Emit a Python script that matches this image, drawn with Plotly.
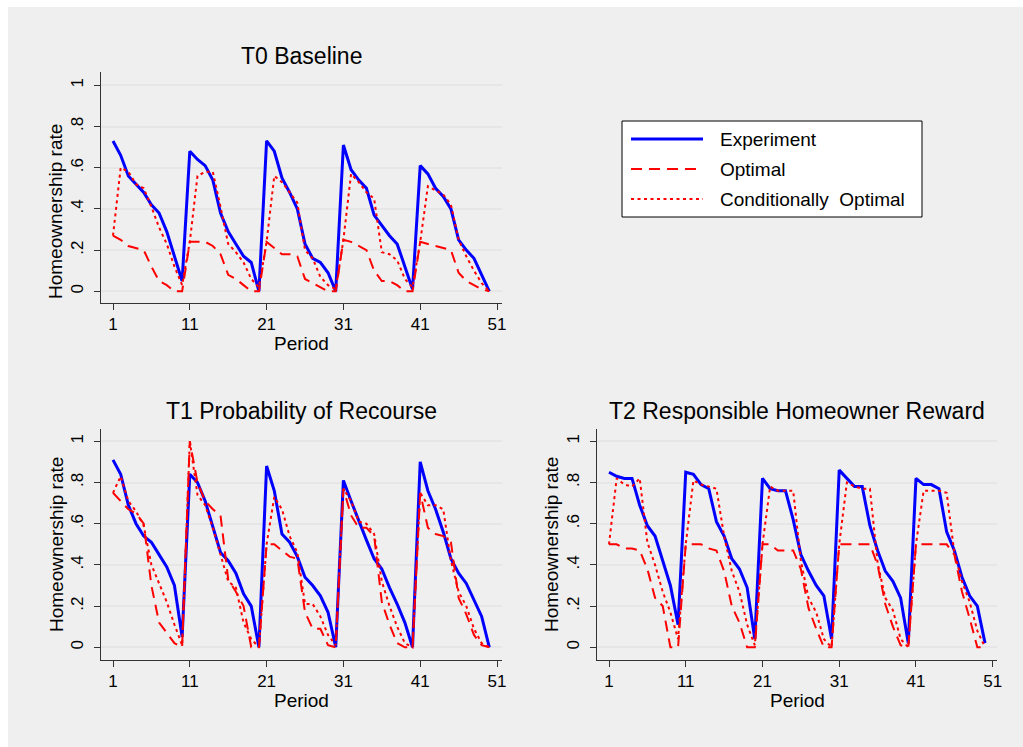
import plotly.graph_objects as go

W, H = 1023, 747

# ---- data -------------------------------------------------------------
periods = list(range(1, 51))
x_ticks = [1, 11, 21, 31, 41, 51]
x_tick_labels = ["1", "11", "21", "31", "41", "51"]
y_ticks = [0, 0.2, 0.4, 0.6, 0.8, 1.0]
y_tick_labels = ["0", ".2", ".4", ".6", ".8", "1"]

series_names = ["Experiment", "Optimal", "Conditionally  Optimal"]
panel_titles = ["T0 Baseline", "T1 Probability of Recourse",
                "T2 Responsible Homeowner Reward"]

t0_experiment = [0.73, 0.66, 0.56, 0.52, 0.48, 0.42, 0.38, 0.29, 0.17, 0.05,
                 0.68, 0.64, 0.61, 0.54, 0.38, 0.29, 0.23, 0.17, 0.14, 0.00,
                 0.73, 0.68, 0.55, 0.48, 0.40, 0.23, 0.16, 0.14, 0.09, 0.00,
                 0.71, 0.59, 0.54, 0.50, 0.37, 0.32, 0.27, 0.23, 0.12, 0.01,
                 0.61, 0.57, 0.50, 0.46, 0.40, 0.25, 0.20, 0.16, 0.08, 0.00]
t0_optimal = [0.27, 0.25, 0.22, 0.21, 0.20, 0.12, 0.05, 0.03, 0.00, 0.00,
              0.24, 0.24, 0.24, 0.22, 0.18, 0.08, 0.06, 0.03, 0.00, 0.00,
              0.24, 0.21, 0.18, 0.18, 0.17, 0.06, 0.04, 0.02, 0.00, 0.00,
              0.25, 0.24, 0.22, 0.20, 0.10, 0.05, 0.05, 0.03, 0.00, 0.00,
              0.24, 0.23, 0.22, 0.21, 0.20, 0.09, 0.05, 0.03, 0.01, 0.00]
t0_cond_optimal = [0.27, 0.60, 0.58, 0.52, 0.50, 0.41, 0.31, 0.23, 0.12, 0.03,
                   0.24, 0.56, 0.58, 0.58, 0.41, 0.23, 0.19, 0.14, 0.06, 0.02,
                   0.24, 0.56, 0.53, 0.48, 0.43, 0.20, 0.16, 0.07, 0.03, 0.01,
                   0.25, 0.57, 0.53, 0.48, 0.45, 0.19, 0.18, 0.15, 0.06, 0.02,
                   0.24, 0.51, 0.49, 0.47, 0.42, 0.25, 0.17, 0.10, 0.04, 0.00]

t1_experiment = [0.91, 0.84, 0.69, 0.60, 0.54, 0.51, 0.45, 0.39, 0.30, 0.05,
                 0.84, 0.80, 0.71, 0.59, 0.46, 0.42, 0.36, 0.26, 0.20, 0.00,
                 0.88, 0.76, 0.55, 0.51, 0.44, 0.34, 0.30, 0.25, 0.17, 0.00,
                 0.81, 0.71, 0.61, 0.52, 0.43, 0.38, 0.29, 0.21, 0.12, 0.00,
                 0.90, 0.76, 0.67, 0.56, 0.43, 0.36, 0.31, 0.23, 0.15, 0.00]
t1_optimal = [0.75, 0.71, 0.67, 0.65, 0.60, 0.30, 0.12, 0.07, 0.02, 0.00,
              1.00, 0.80, 0.71, 0.67, 0.64, 0.33, 0.27, 0.20, 0.00, 0.00,
              0.50, 0.50, 0.47, 0.44, 0.43, 0.17, 0.09, 0.09, 0.01, 0.00,
              0.77, 0.64, 0.58, 0.58, 0.54, 0.22, 0.11, 0.02, 0.00, 0.00,
              0.75, 0.58, 0.55, 0.54, 0.51, 0.24, 0.16, 0.06, 0.01, 0.00]
t1_cond_optimal = [0.75, 0.83, 0.71, 0.66, 0.59, 0.40, 0.31, 0.22, 0.11, 0.01,
                   1.00, 0.74, 0.69, 0.58, 0.45, 0.32, 0.29, 0.12, 0.04, 0.00,
                   0.50, 0.73, 0.67, 0.54, 0.46, 0.21, 0.21, 0.15, 0.06, 0.01,
                   0.77, 0.71, 0.61, 0.60, 0.55, 0.32, 0.20, 0.10, 0.02, 0.00,
                   0.75, 0.69, 0.69, 0.67, 0.42, 0.27, 0.20, 0.09, 0.02, 0.00]

t2_experiment = [0.85, 0.83, 0.82, 0.82, 0.69, 0.59, 0.54, 0.42, 0.30, 0.11,
                 0.85, 0.84, 0.79, 0.77, 0.61, 0.54, 0.43, 0.38, 0.29, 0.04,
                 0.82, 0.77, 0.76, 0.76, 0.62, 0.45, 0.37, 0.30, 0.25, 0.04,
                 0.86, 0.82, 0.78, 0.78, 0.59, 0.47, 0.37, 0.32, 0.24, 0.02,
                 0.82, 0.79, 0.79, 0.77, 0.56, 0.47, 0.34, 0.25, 0.20, 0.02]
t2_optimal = [0.50, 0.50, 0.48, 0.48, 0.47, 0.38, 0.24, 0.20, 0.00, 0.00,
              0.50, 0.50, 0.50, 0.48, 0.47, 0.37, 0.20, 0.12, 0.00, 0.00,
              0.50, 0.50, 0.47, 0.47, 0.47, 0.38, 0.19, 0.09, 0.00, 0.00,
              0.50, 0.50, 0.50, 0.50, 0.50, 0.40, 0.21, 0.10, 0.01, 0.00,
              0.50, 0.50, 0.50, 0.50, 0.50, 0.45, 0.27, 0.14, 0.00, 0.00]
t2_cond_optimal = [0.50, 0.82, 0.79, 0.78, 0.82, 0.51, 0.40, 0.27, 0.17, 0.04,
                   0.50, 0.81, 0.79, 0.78, 0.77, 0.54, 0.37, 0.27, 0.11, 0.01,
                   0.50, 0.78, 0.76, 0.76, 0.76, 0.42, 0.24, 0.17, 0.04, 0.00,
                   0.50, 0.80, 0.78, 0.77, 0.77, 0.41, 0.24, 0.18, 0.04, 0.00,
                   0.50, 0.76, 0.76, 0.76, 0.75, 0.46, 0.32, 0.22, 0.08, 0.00]

# ---- styling ----------------------------------------------------------
FONT = "Liberation Sans, Arial, Helvetica, sans-serif"
BLUE = "#0000ff"
RED = "#ff0000"
AXIS = "#333333"
GRID = "#e6e6e6"
BG = "#efefef"

line_styles = [
    dict(color=BLUE, width=3, dash="solid"),
    dict(color=RED, width=2, dash="11px,7px"),
    dict(color=RED, width=2, dash="3px,3.5px"),
]


def px(x):
    return x / W


def py(y):
    return 1 - y / H


# plot-region boxes (left, top, right, bottom) in page pixels
boxes = [(101, 72, 502, 303), (101, 429, 502, 660), (597, 429, 997, 660)]
x_ranges = [[-0.5625, 51.65], [-0.5625, 51.65], [-0.5635, 51.56]]
y_ranges = [[-0.0568, 1.0646], [-0.0617, 1.0597], [-0.0617, 1.0597]]

panels = [
    (t0_experiment, t0_optimal, t0_cond_optimal),
    (t1_experiment, t1_optimal, t1_cond_optimal),
    (t2_experiment, t2_optimal, t2_cond_optimal),
]

tick_font = dict(family=FONT, size=17, color="black")

fig = go.Figure()
layout = {}
for i, (box, series) in enumerate(zip(boxes, panels)):
    suffix = "" if i == 0 else str(i + 1)
    for name, vals, style in zip(series_names, series, line_styles):
        fig.add_trace(go.Scatter(
            x=periods, y=vals, mode="lines", name=name, line=style,
            showlegend=False, xaxis="x" + suffix, yaxis="y" + suffix,
        ))
    l, t, r, b = box
    layout["xaxis" + suffix] = dict(
        domain=[px(l), px(r)], range=x_ranges[i], anchor="y" + suffix,
        tickvals=x_ticks, ticktext=x_tick_labels, ticks="outside",
        ticklen=6, tickwidth=1, tickcolor=AXIS, showline=True,
        linecolor=AXIS, linewidth=1, showgrid=False, zeroline=False,
        tickfont=tick_font, automargin=False,
    )
    layout["yaxis" + suffix] = dict(
        domain=[py(b), py(t)], range=y_ranges[i], anchor="x" + suffix,
        tickvals=y_ticks, ticktext=y_tick_labels, tickangle=-90,
        ticks="outside", ticklen=6, tickwidth=1, tickcolor=AXIS,
        showline=True, linecolor=AXIS, linewidth=1, showgrid=True,
        gridcolor=GRID, gridwidth=1.5, zeroline=False,
        tickfont=tick_font, ticklabelstandoff=4, automargin=False,
    )

annotations = []
title_font = dict(family=FONT, size=23, color="black")
label_font = dict(family=FONT, size=19, color="black")
title_y = [56, 411, 411]
xlabel_y = [344, 700, 700]
ylabel_x = [56, 56, 551]
ylabel_y = [212, 545, 545]
for i, (l, t, r, b) in enumerate(boxes):
    cx = (l + r) / 2
    annotations.append(dict(text=panel_titles[i], x=px(cx), y=py(title_y[i]),
                            xref="paper", yref="paper", showarrow=False,
                            xanchor="center", yanchor="middle", font=title_font))
    annotations.append(dict(text="Period", x=px(cx), y=py(xlabel_y[i]),
                            xref="paper", yref="paper", showarrow=False,
                            xanchor="center", yanchor="middle", font=label_font))
    annotations.append(dict(text="Homeownership rate", x=px(ylabel_x[i]),
                            y=py(ylabel_y[i]), xref="paper", yref="paper",
                            showarrow=False, textangle=-90, xanchor="center",
                            yanchor="middle", font=label_font))

shapes = [
    # graph background
    dict(type="rect", xref="paper", yref="paper", x0=px(8), x1=1, y0=0,
         y1=py(7), fillcolor=BG, line=dict(width=0), layer="below"),
    # legend box
    dict(type="rect", xref="paper", yref="paper", x0=px(622), x1=px(922),
         y0=py(217), y1=py(121), fillcolor="white",
         line=dict(color="black", width=1), layer="above"),
]
legend_rows = [139, 169, 199]
for name, style, row in zip(series_names, line_styles, legend_rows):
    shapes.append(dict(type="line", xref="paper", yref="paper", x0=px(631),
                       x1=px(703), y0=py(row), y1=py(row),
                       line=dict(color=style["color"], width=style["width"],
                                 dash=style["dash"])))
    annotations.append(dict(text=name, x=px(718), y=py(row), xref="paper",
                            yref="paper", showarrow=False, xanchor="left",
                            yanchor="middle", font=label_font))

fig.update_layout(
    **layout,
    width=W, height=H,
    margin=dict(l=0, r=0, t=0, b=0, pad=0),
    paper_bgcolor="white",
    plot_bgcolor="white",
    font=dict(family=FONT, color="black"),
    showlegend=False,
    annotations=annotations,
    shapes=shapes,
)

fig.write_html("out.html")
